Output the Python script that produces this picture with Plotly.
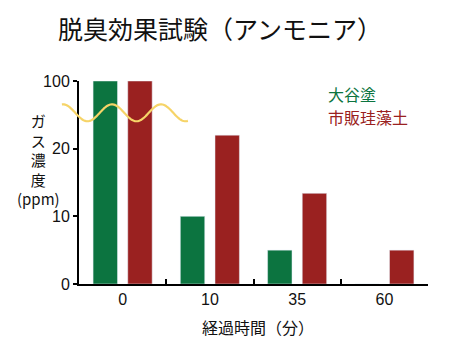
import numpy as np
import plotly.graph_objects as go

# ---- data ----
categories = ["0", "10", "35", "60"]
otani = [100, 10, 5, 0]            # 大谷塗
commercial = [100, 22, 13.4, 5]    # 市販珪藻土
tick_values = [0, 10, 20, 100]     # broken axis labels
tick_positions = [0, 10, 20, 30]   # where they sit on the drawn axis
break_at = 28                      # values above this jump to the top tick

GREEN = "#0c7440"
RED = "#9a2120"
YELLOW = "#f6d468"
CJK = "Noto Sans CJK JP, sans-serif"
LAT = "Liberation Sans, Arial, sans-serif"

# page body has an 8px margin; size/position the figure to compensate
OFF = 8
W, H = 450 - OFF, 363 - OFF


def to_axis(vals):
    return list(np.interp(vals, [0, break_at, tick_values[-1]],
                          [0, break_at, tick_positions[-1]]))


fig = go.Figure()
fig.add_bar(x=categories, y=to_axis(otani), name="大谷塗",
            marker=dict(color=GREEN),
            customdata=otani, hovertemplate="%{customdata}<extra>大谷塗</extra>")
fig.add_bar(x=categories, y=to_axis(commercial), name="市販珪藻土",
            marker=dict(color=RED),
            customdata=commercial, hovertemplate="%{customdata}<extra>市販珪藻土</extra>")

# axis break wave (decoration) in paper-x / data-y
xs = np.linspace(-0.049, 0.312, 120)
period = 49 / 349
ys = 25.3 + 1.25 * np.cos(2 * np.pi * (xs - (63 - 79) / 349) / period)
path = "M " + " L ".join(f"{x:.4f},{y:.3f}" for x, y in zip(xs, ys))
fig.add_shape(type="path", path=path, xref="paper", yref="y",
              line=dict(color=YELLOW, width=2.2), layer="above")

fig.update_layout(
    width=W, height=H,
    margin=dict(l=79 - OFF, r=22, t=81 - OFF, b=79),
    paper_bgcolor="white", plot_bgcolor="white",
    showlegend=False,
    barmode="group", bargap=0.205, bargroupgap=0.296,
    title=dict(text="脱臭効果試験（アンモニア）", x=(58 - OFF) / W, xanchor="left",
               xref="container", y=1 - (30 - OFF) / H, yanchor="middle",
               font=dict(family=CJK, size=25, color="#111")),
    xaxis=dict(showline=True, linecolor="black", linewidth=2,
               ticks="inside", tickson="boundaries", ticklen=5, tickwidth=1.5,
               tickcolor="black", showgrid=False,
               tickfont=dict(family=LAT, size=16, color="#111")),
    yaxis=dict(range=[0, 30], showline=True, linecolor="black", linewidth=2,
               ticks="outside", ticklen=4, tickwidth=1.5, tickcolor="black",
               tickvals=tick_positions, ticktext=[str(v) for v in tick_values],
               showgrid=False, zeroline=False,
               tickfont=dict(family=LAT, size=16, color="#111")),
)

fig.add_annotation(text="ガ<br>ス<br>濃<br>度<br>(ppm)", xref="paper", yref="paper",
                   x=-0.117, y=0.615, xanchor="center", yanchor="middle",
                   showarrow=False, font=dict(family=CJK, size=15, color="#111"))
fig.add_annotation(text="経過時間（分）", xref="paper", yref="paper",
                   x=0.513, y=-0.212, xanchor="center", yanchor="middle",
                   showarrow=False, font=dict(family=CJK, size=16, color="#111"))
fig.add_annotation(text="大谷塗", xref="paper", yref="paper",
                   x=0.711, y=0.935, xanchor="left", yanchor="middle", borderpad=0,
                   showarrow=False, font=dict(family=CJK, size=16, color=GREEN))
fig.add_annotation(text="市販珪藻土", xref="paper", yref="paper",
                   x=0.711, y=0.822, xanchor="left", yanchor="middle", borderpad=0,
                   showarrow=False, font=dict(family=CJK, size=16, color=RED))

fig.write_html("out.html")
